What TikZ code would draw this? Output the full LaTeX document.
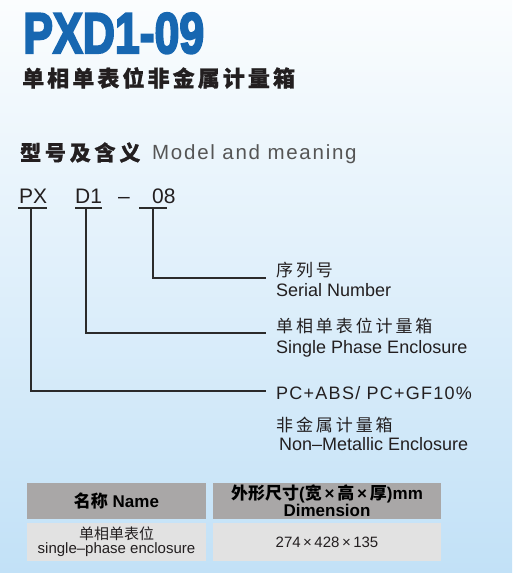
\documentclass[tikz,border=0pt]{standalone}
\usepackage{fontspec}
\usepackage{graphicx}
\usepackage{xcolor}
\usepackage{tikz}
\setmainfont{Liberation Sans}
\newfontfamily\cjk{Noto Sans CJK SC}
\newfontfamily\titlefont[FakeBold=4]{Liberation Sans Bold}
\definecolor{titleblue}{HTML}{1767B1}
\definecolor{textdark}{HTML}{231F20}
\definecolor{textgray}{HTML}{555555}
\definecolor{leadgray}{HTML}{2B2B2B}
\definecolor{headgray}{HTML}{A9A7A7}
\definecolor{rowgray}{HTML}{E2E2E2}
\definecolor{bgtop}{HTML}{FBFDFE}
\definecolor{bgmid}{HTML}{E4F1FB}
\definecolor{bgbottom}{HTML}{C2E1F7}

\begin{document}
\begin{tikzpicture}[x=1pt,y=-1pt]
\tikzstyle{every node}+=[inner sep=0pt]
\tikzstyle{lead}=[line width=1.4pt, draw=leadgray]
\tikzstyle{code}=[anchor=base west, text=textdark, font=\fontsize{21}{21}\selectfont]
\tikzstyle{lbl}=[anchor=base west, text=textdark, font=\fontsize{18}{18}\selectfont]
\tikzstyle{cjklbl}=[anchor=base west, text=textdark, font=\cjk\fontsize{17}{17}\selectfont\addfontfeatures{LetterSpace=17}]
\tikzstyle{headcell}=[fill=headgray, minimum height=36pt, align=center, text=black, font=\bfseries\fontsize{17}{14.5}\selectfont]
\tikzstyle{rowcell}=[fill=rowgray, minimum height=38pt, align=center, text=textdark, font=\fontsize{15}{14}\selectfont]
\useasboundingbox (0,0) rectangle (512,573);
\fill [top color=bgtop, middle color=bgmid, bottom color=bgbottom] (0,0) rectangle (512,573);
% heading
\node [anchor=base west, text=titleblue] (title) at (23,53) {\resizebox{181pt}{40pt}{\titlefont PXD1-09}};
\node [anchor=base west, text=textdark, font=\cjk\bfseries\fontsize{22}{22}\selectfont\addfontfeatures{LetterSpace=14,FakeBold=1}] (subtitle) at (22,86.5) {单相单表位非金属计量箱};
\node [anchor=base west, text=textdark, font=\cjk\bfseries\fontsize{21}{21}\selectfont\addfontfeatures{LetterSpace=18,FakeBold=1}] (model) at (20,160.5) {型号及含义};
\node [anchor=base west, text=textgray, font=\fontsize{20.5}{20.5}\selectfont\addfontfeatures{LetterSpace=8.5}] (modeleng) at (152,159) {Model and meaning};
% model code
\node [code] (px) at (19,203) {PX};
\node [code] (d1) at (75,203) {D1};
\node [code] (dash) at (118,203) {–};
\node [code] (sn) at (152,203) {08};
\coordinate (pxfoot) at (31,208);
\coordinate (d1foot) at (86,208);
\coordinate (snfoot) at (153,208);
\coordinate (snend) at (266,278);
\coordinate (d1end) at (266,333);
\coordinate (pxend) at (266,391);
\draw [lead] (18,208) -- (47,208);
\draw [lead] (75,208) -- (102,208);
\draw [lead] (139,208) -- (167,208);
\draw [lead] (snfoot) |- (snend);
\draw [lead] (d1foot) |- (d1end);
\draw [lead] (pxfoot) |- (pxend);
% meanings
\node [cjklbl] (serialcn) at (276,276) {序列号};
\node [lbl] (serialen) at (276,296) {Serial Number};
\node [cjklbl] (phasecn) at (276,332) {单相单表位计量箱};
\node [lbl] (phaseen) at (276,353) {Single Phase Enclosure};
\node [lbl, font=\fontsize{18}{18}\selectfont\addfontfeatures{LetterSpace=7}] (material) at (276,399) {PC+ABS/ PC+GF10\%};
\node [cjklbl] (nonmetcn) at (276,431) {非金属计量箱};
\node [lbl] (nonmeten) at (279,450) {Non–Metallic Enclosure};
% table
\node [headcell, minimum width=179pt] (hname) at (116.5,501) {{\cjk 名称} Name};
\node [headcell, minimum width=228pt] (hdim) at (327,501) {{\cjk 外形尺寸}({\cjk 宽}\,×\,{\cjk 高}\,×\,{\cjk 厚})mm\\Dimension};
\node [rowcell, minimum width=179pt] (rname) at (116.5,542) {{\cjk 单相单表位}\\single–phase enclosure};
\node [rowcell, minimum width=228pt] (rdim) at (327,542) {274\,×\,428\,×\,135};
\end{tikzpicture}
\end{document}
